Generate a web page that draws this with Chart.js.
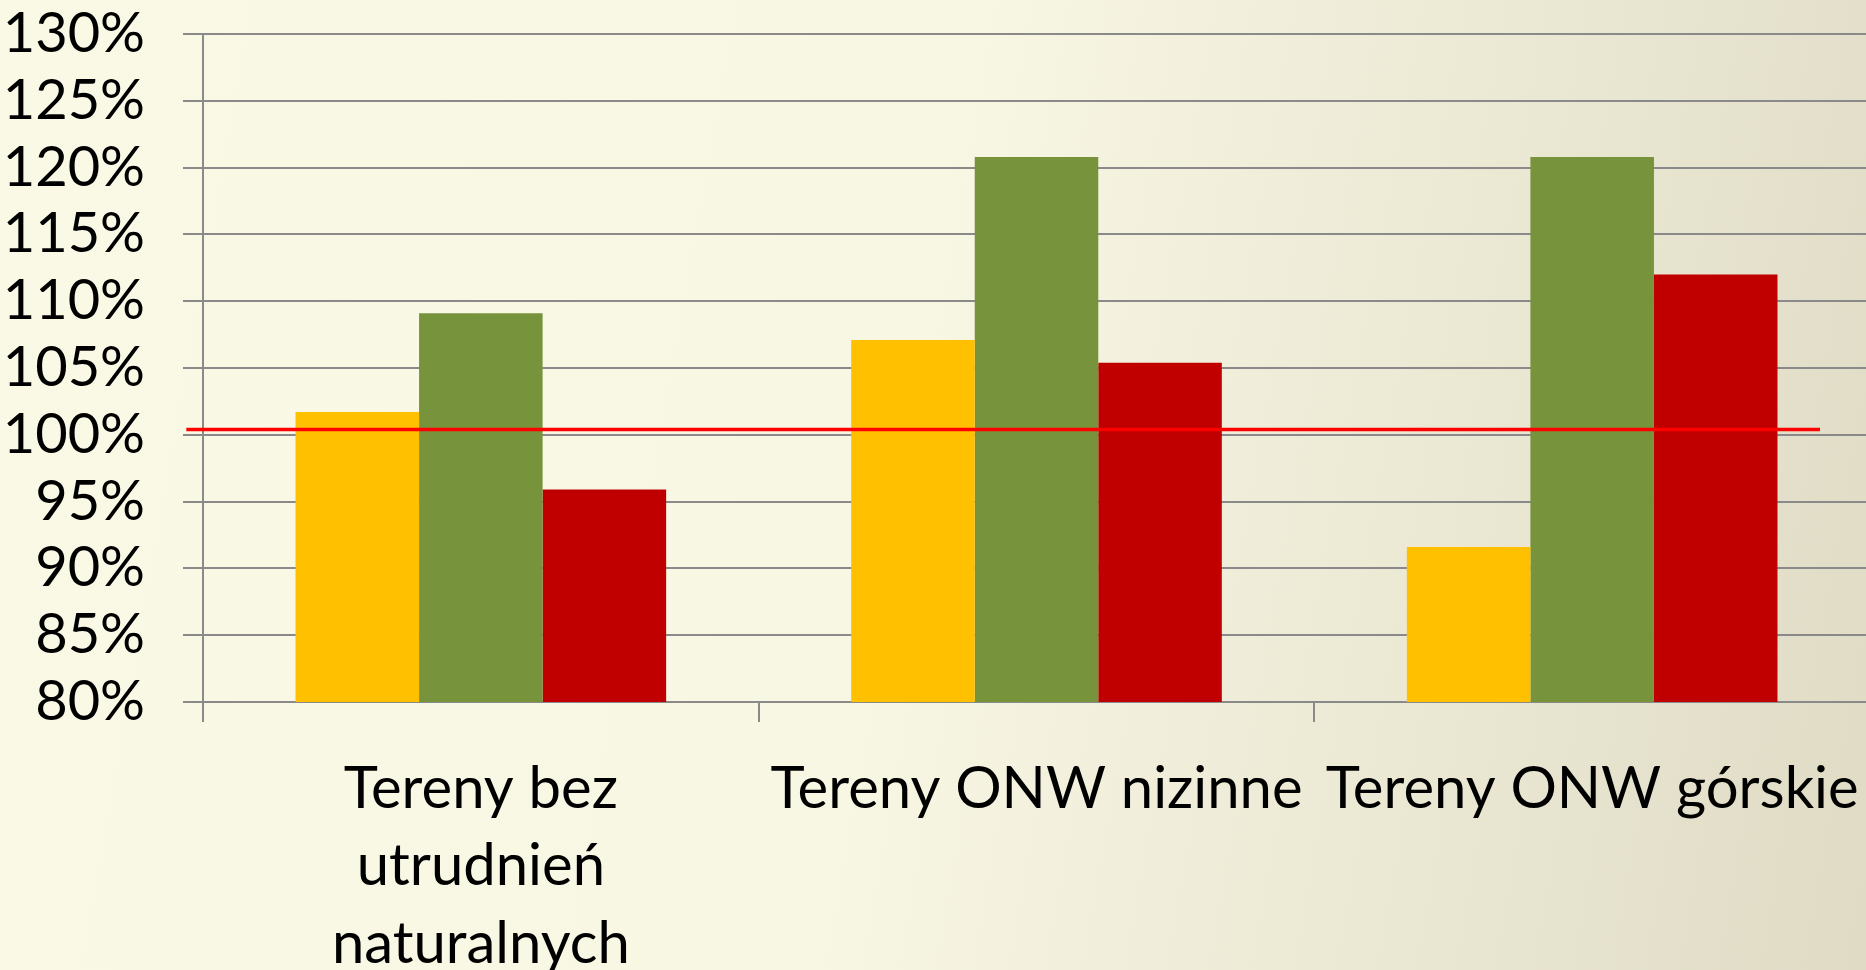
<!DOCTYPE html>
<html>
<head>
<meta charset="utf-8">
<script src="https://cdn.jsdelivr.net/npm/chart.js@4"></script>
<style>
  html, body { margin: 0; padding: 0; overflow: hidden; }
  body {
    width: 1866px; height: 970px;
    background: linear-gradient(100deg, #faf9e6 0%, #f8f7e3 48%, #ebe8d4 75%, #dfdbc5 100%);
  }
  canvas { display: block; }
</style>
</head>
<body>
<canvas class="my-chart" width="1870" height="970"></canvas>
<script>
// dane
const kategorie = [['Tereny bez', 'utrudnień', 'naturalnych'], 'Tereny ONW nizinne', 'Tereny ONW górskie'];
const seria1 = [101.7, 107.1, 91.6];
const seria2 = [109.1, 120.8, 120.8];
const seria3 = [95.9, 105.4, 112.0];
// czerwona linia odniesienia (wartość i zakres w jednostkach osi kategorii)
const poziom = 100.4;
const poziomOd = -0.53;
const poziomDo = 2.41;

const szary = '#8a8a8a';

// linia 100% rysowana przez skale wykresu
const liniaPoziomu = {
  id: 'liniaPoziomu',
  afterDatasetsDraw(chart) {
    const { ctx, scales } = chart;
    const y = scales.y.getPixelForValue(poziom);
    ctx.save();
    ctx.strokeStyle = '#ff0000';
    ctx.lineWidth = 3.5;
    ctx.beginPath();
    ctx.moveTo(scales.x.getPixelForValue(poziomOd), y);
    ctx.lineTo(scales.x.getPixelForValue(poziomDo), y);
    ctx.stroke();
    ctx.restore();
  }
};

const myChart = document.querySelector('.my-chart');
new Chart(myChart, {
  type: 'bar',
  data: {
    labels: kategorie,
    datasets: [
      { label: 'Seria 1', data: seria1, backgroundColor: '#ffc000' },
      { label: 'Seria 2', data: seria2, backgroundColor: '#77933c' },
      { label: 'Seria 3', data: seria3, backgroundColor: '#c00000' }
    ]
  },
  options: {
    responsive: false,
    animation: false,
    devicePixelRatio: 1,
    datasets: { bar: { categoryPercentage: 0.667, barPercentage: 1 } },
    layout: { padding: 0 },
    plugins: {
      legend: { display: false },
      tooltip: { enabled: false }
    },
    scales: {
      x: {
        grid: { offset: true, drawOnChartArea: false, color: szary, lineWidth: 2, tickLength: 20 },
        border: { color: szary, width: 2 },
        ticks: { font: { family: 'Lato', size: 58, lineHeight: 1.33 }, color: '#000', maxRotation: 0, autoSkip: false, padding: 29 },
        afterFit: (scale) => {
          scale.height = 268;
          scale.paddingLeft = 0;
          scale.paddingRight = 0;
        }
      },
      y: {
        min: 80,
        max: 130,
        grid: { color: szary, lineWidth: 2, tickLength: 20 },
        border: { color: szary, width: 2 },
        ticks: { stepSize: 5, autoSkip: false, font: { family: 'Lato', size: 56 }, color: '#000', padding: 38, callback: (v) => v + '%' },
        afterFit: (scale) => {
          scale.width = 203;
          scale.paddingTop = 34;
          scale.paddingBottom = 0;
        }
      }
    }
  },
  plugins: [liniaPoziomu]
});
</script>
</body>
</html>
